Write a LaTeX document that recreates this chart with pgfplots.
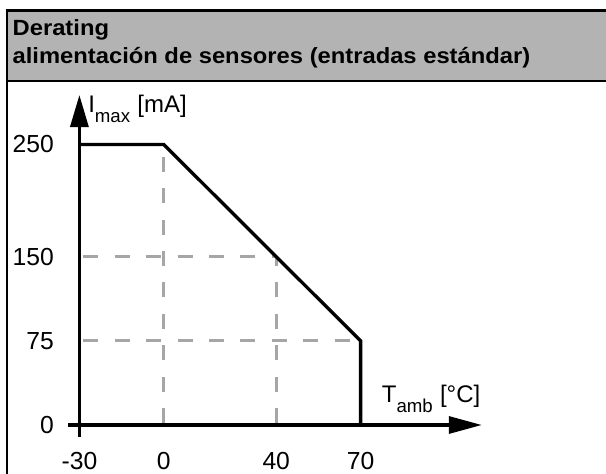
\documentclass[border=0pt]{standalone}
\usepackage{fontspec}
\setmainfont{Liberation Sans}
\newfontfamily\hdrfont[FakeStretch=1.08]{Liberation Sans}
\usepackage{pgfplots}
\pgfplotsset{compat=1.18}
\usetikzlibrary{arrows.meta}
\definecolor{hdrgray}{RGB}{179,179,179}
\definecolor{dashgray}{RGB}{166,166,166}
\begin{document}
\begin{tikzpicture}
\useasboundingbox (0,0) rectangle (454.5pt,355.5pt);
% frame and header
\fill[hdrgray] (5.25pt,347.6pt) rectangle (454.5pt,295pt);
\draw[line width=1.7pt] (5.25pt,0pt) -- (5.25pt,347.6pt) -- (454.5pt,347.6pt);
\draw[line width=1.7pt] (5.25pt,295pt) -- (454.5pt,295pt);
\node[anchor=base west, inner sep=0pt] at (9.3pt,328.5pt) {\hdrfont\bfseries\fontsize{16.5}{20}\selectfont Derating};
\node[anchor=base west, inner sep=0pt] at (9.3pt,308pt) {\hdrfont\bfseries\fontsize{16.5}{20}\selectfont alimentación de sensores (entradas estándar)};
% axis labels
\node[anchor=base west, inner sep=0pt] at (66pt,270.75pt) {\fontsize{18}{21}\selectfont I\raisebox{-7.5pt}{\fontsize{14}{16}\selectfont max}\hspace{0.3em}[mA]};
\node[anchor=base west, inner sep=0pt] at (286.2pt,53.25pt) {\fontsize{18}{21}\selectfont T\raisebox{-7.5pt}{\fontsize{14}{16}\selectfont amb}\hspace{0.3em}[°C]};
\begin{axis}[
  at={(59.55pt,36.75pt)}, anchor=south west,
  x=2.109pt, y=0.8415pt,
  xmin=-30, xmax=113.1, ymin=0, ymax=294.1,
  enlargelimits=false, clip=false,
  axis lines=left, axis line style={draw=none},
  major tick length=0pt, tick style={draw=none},
  xtick={-30,0,40,70}, xticklabels={-30,0,40,70},
  ytick={0,75,150,250}, yticklabels={0,75,150,250},
  ticklabel style={font=\fontsize{18.5}{22}\selectfont},
  xticklabel style={anchor=base, inner sep=0pt, yshift=-33.5pt},
  yticklabel style={anchor=east, inner sep=0pt, xshift=-19pt},
]
% dashed guide lines
\addplot[dashgray, line width=2.2pt, dash pattern=on 11.25pt off 12.3pt, dash phase=20.6pt] coordinates {(-30,150) (40,150)};
\addplot[dashgray, line width=2.2pt, dash pattern=on 11.25pt off 12.3pt, dash phase=20.6pt] coordinates {(-30,75) (70,75)};
\addplot[dashgray, line width=2.2pt, dash pattern=on 11.25pt off 12.3pt, dash phase=22pt] coordinates {(0,0) (0,250)};
\addplot[dashgray, line width=2.2pt, dash pattern=on 11.25pt off 12.3pt, dash phase=22pt] coordinates {(40,0) (40,150)};
% derating curve
\addplot[black, line width=2.5pt] coordinates {(-30,250) (0,250) (70,75) (70,0)};
% axes with arrows
\draw[line width=2.4pt, -{Triangle[length=24.75pt,width=12.75pt]}] (axis cs:-33.95,0) -- (axis cs:113.1,0);
\draw[line width=2.4pt, -{Triangle[length=24pt,width=13.5pt]}] (axis cs:-30,-10.4) -- (axis cs:-30,294.1);
\end{axis}
\end{tikzpicture}
\end{document}
